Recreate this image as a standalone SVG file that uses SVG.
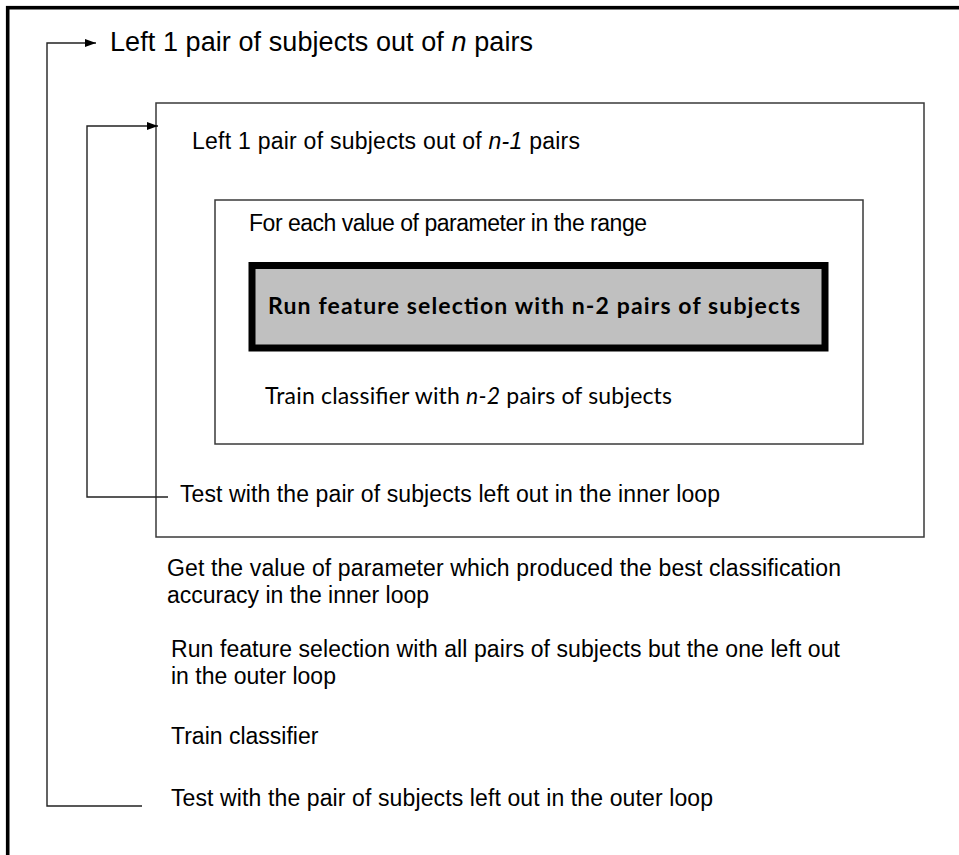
<svg xmlns="http://www.w3.org/2000/svg" width="959" height="855" viewBox="0 0 959 855">
<style>
.a{font-family:"Liberation Sans",Arial,sans-serif;font-size:23px;fill:#000}
.t{font-size:27px}
.c{font-family:Lato,"Open Sans",sans-serif;font-size:23px;fill:#000}
.box{fill:none;stroke:#3a3a3a;stroke-width:1.5}
.conn{fill:none;stroke:#222;stroke-width:1.4}
</style>
<defs>
<marker id="ah" markerWidth="11" markerHeight="8" refX="11" refY="4" orient="auto" markerUnits="userSpaceOnUse">
<path d="M0,0 L11,4 L0,8 Z" fill="#000"/>
</marker>
</defs>
<rect width="959" height="855" fill="#fff"/>
<rect x="7.7" y="7.7" width="960" height="860" fill="none" stroke="#000" stroke-width="3.6"/>
<g id="outer-loop-title">
<text class="a t" x="110" y="51" textLength="423">Left 1 pair of subjects out of <tspan font-style="italic">n</tspan> pairs</text>
</g>
<g id="inner-loop-box">
<rect class="box" x="156" y="103" width="768" height="434"/>
<text class="a" x="192" y="149" textLength="388">Left 1 pair of subjects out of <tspan font-style="italic">n-1</tspan> pairs</text>
</g>
<g id="parameter-box">
<rect class="box" x="215" y="200" width="648" height="244"/>
<text class="a" x="249" y="231" textLength="398">For each value of parameter in the range</text>
</g>
<g id="feature-selection">
<rect x="252" y="265.5" width="573" height="82.5" fill="#c0c0c0" stroke="#000" stroke-width="7"/>
<text class="c" x="268" y="314" font-weight="bold" textLength="532">Run feature selection with n-2 pairs of subjects</text>
</g>
<g id="train-inner">
<text class="c" x="265" y="404" textLength="407">Train classifier with <tspan font-style="italic">n-2</tspan> pairs of subjects</text>
</g>
<g id="test-inner">
<text class="a" x="180" y="502" textLength="540">Test with the pair of subjects left out in the inner loop</text>
</g>
<g id="get-best">
<text class="a" x="167" y="576" textLength="674">Get the value of parameter which produced the best classification</text>
<text class="a" x="167" y="603">accuracy in the inner loop</text>
</g>
<g id="run-outer">
<text class="a" x="171" y="657" textLength="669">Run feature selection with all pairs of subjects but the one left out</text>
<text class="a" x="171" y="684">in the outer loop</text>
</g>
<g id="train-outer">
<text class="a" x="171" y="744">Train classifier</text>
</g>
<g id="test-outer">
<text class="a" x="171" y="806" textLength="542">Test with the pair of subjects left out in the outer loop</text>
</g>
<g id="connectors">
<path class="conn" d="M142,806 H47 V43 H96" marker-end="url(#ah)"/>
<path class="conn" d="M168,497 H87 V126 H158" marker-end="url(#ah)"/>
</g>
</svg>
